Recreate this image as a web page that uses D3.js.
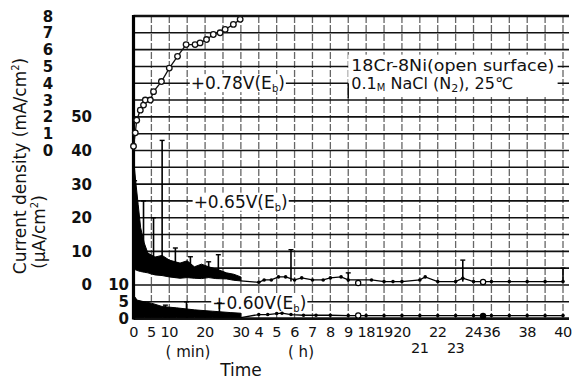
<!DOCTYPE html>
<html>
<head>
<meta charset="utf-8">
<script src="https://cdn.jsdelivr.net/npm/d3@7"></script>
<style>
  body { margin: 0; background: #fff; }
  svg text { font-family: "DejaVu Sans", sans-serif; fill: #111; }
</style>
</head>
<body>
<svg id="chart" width="578" height="382"></svg>
<script>
// ---- values ----
// time axis is broken: minutes up to 30, then hours
var minTicks = [0, 5, 10, 20, 30];
var hourTicks = [4, 5, 6, 7, 8, 9, 18, 19, 20, 21, 22, 23, 24, 36, 38, 40];
var secondRow = [21, 23];            // printed one row lower
var mATicks = [0, 1, 2, 3, 4, 5, 6, 7, 8];
var uATicks = [0, 10, 20, 30, 40, 50];
var lowTicks = [0, 5, 10];

// +0.78V(Eb) : minutes, mA/cm2
var t78 = [0, 0.5, 0.9, 1.9, 2.8, 3.3, 4.7, 5.6, 7.8, 10, 12.3, 14.7, 17.2, 18.6, 20.4, 22.3, 24.2, 25.6, 27.9, 29.8];
var i78 = [0.25, 1.05, 1.8, 2.4, 2.7, 3.0, 3.0, 3.5, 4.1, 4.9, 5.6, 6.3, 6.3, 6.4, 6.6, 6.9, 7.0, 7.2, 7.5, 7.8];

// +0.65V(Eb) : dense noisy trace, minutes, uA/cm2
var t65 = [0, 0.6, 1.3, 2, 3, 4, 6, 8, 10, 13, 15, 17, 19, 21, 23, 26, 28, 30];
var lo65 = [4.5, 4.5, 4.2, 4, 3.8, 3.6, 3, 2.8, 2.4, 2, 2.2, 2, 1.9, 2.2, 1.9, 1.8, 1.4, 1.2];
var hi65 = [38, 31, 24, 17, 12.5, 9.5, 8.3, 8.8, 7.4, 6.5, 7.2, 5.4, 6.2, 5.4, 4.8, 3.6, 3.2, 2.4];
var spikeT65 = [0.3, 2.8, 5.6, 8, 11.7, 15.9, 21, 23.7];
var spikeV65 = [31, 25, 20, 43, 11, 8.4, 6.9, 9];
// later part, hours
var spikeH65 = [5.8, 9, 23.4, 40];
var spikeHV65 = [10.5, 3.6, 7.4, 5];
var dotT65 = [4, 4.3, 4.7, 5.1, 5.5, 6, 6.4, 7, 7.6, 8, 8.6, 9, 18.3, 19, 19.5, 20, 21, 21.3, 22, 23, 23.4, 24, 36, 37, 38, 39, 40];
var dotV65 = [0.8, 1.5, 1.5, 2.4, 2.4, 1.5, 2.1, 1.5, 1.5, 2.1, 2.4, 1.5, 1.5, 1.0, 1.0, 1.0, 1.5, 2.4, 1.0, 1.0, 2.0, 1.0, 1.0, 1.0, 1.0, 1.0, 1.0];
var ringT65 = [14, 30.4];
var ringV65 = [0.6, 0.9];

// +0.60V(Eb) : lower panel, minutes, uA/cm2
var t60 = [0, 1, 3, 5, 8, 12, 17, 22, 27, 30];
var lo60 = [0.3, 0.3, 0.3, 0.3, 0.3, 0.3, 0.3, 0.3, 0.3, 0.3];
var hi60 = [7, 5.5, 5, 4.6, 3.6, 3.2, 2.6, 2.2, 1.8, 1.6];
var spikeT60 = [8.9, 14.8, 24];
var spikeV60 = [4, 5, 4.6];
var dotT60 = [4, 4.5, 5, 5.3, 5.8, 6.5, 7.2, 8, 9, 18, 19, 20, 21, 22, 23, 24, 36, 37, 38, 39, 40];
var dotV60 = [1.2, 1.2, 1.5, 1.6, 1.2, 1, 1, 1, 0.9, 0.9, 0.9, 0.9, 0.9, 0.9, 0.9, 0.9, 0.9, 0.9, 0.9, 0.9, 0.9];
var ringT60 = [14];
var ringV60 = [0.9];
var bigT60 = [30.4];
var bigV60 = [0.8];

// ---- layout ----
var pLeft = 133.5, pRight = 563, pTop = 16, pBottom = 318.6;
var nCols = 24, nRows = 18;

var svg = d3.select('#chart');

// grid cells -> pixels
var gx = d3.scaleLinear().domain([0, nCols]).range([pLeft, pRight]);
var gy = d3.scaleLinear().domain([0, nRows]).range([pTop, pBottom]);

// broken time axis (hours), each break sits on a grid line
var x = d3.scaleLinear()
  .domain([0, 0.5, 4, 9, 18, 24, 36, 40])
  .range([0, 6, 7, 12, 13, 19, 20, 24].map(gx));
var xm = function(m) { return x(m / 60); };

var yMA = d3.scaleLinear().domain([0, 8]).range([gy(8), gy(0)]);
var yUA = d3.scaleLinear().domain([0, 50]).range([gy(16), gy(6)]);
var yLo = d3.scaleLinear().domain([0, 10]).range([gy(18), gy(16)]);

// ---- grid ----
var grid = svg.append('g');
grid.selectAll('line.v')
  .data(d3.range(1, nCols + 1))
  .enter().append('line')
  .attr('x1', gx).attr('x2', gx)
  .attr('y1', pTop).attr('y2', pBottom)
  .attr('stroke', '#666').attr('stroke-width', 1.3)
  .attr('stroke-dasharray', '7,2');
grid.selectAll('line.h')
  .data(d3.range(0, nRows + 1))
  .enter().append('line')
  .attr('x1', pLeft).attr('x2', pRight + 6)
  .attr('y1', gy).attr('y2', gy)
  .attr('stroke', '#111')
  .attr('stroke-width', function(d) { return (d == 0 || d == nRows) ? 2.6 : 1.6; });
grid.append('line')
  .attr('x1', pLeft).attr('x2', pLeft)
  .attr('y1', pTop - 1).attr('y2', pBottom + 1)
  .attr('stroke', '#000').attr('stroke-width', 3.2);

// white patch for the specimen note
var note = svg.append('g');
note.append('rect')
  .attr('x', gx(12)).attr('y', gy(2.3))
  .attr('width', gx(23.7) - gx(12)).attr('height', gy(4.7) - gy(2.3))
  .attr('fill', '#fff');
note.append('line')
  .attr('x1', gx(12)).attr('x2', gx(12))
  .attr('y1', gy(4)).attr('y2', gy(4.9))
  .attr('stroke', '#111').attr('stroke-width', 1.5);
var n1 = note.append('text').attr('x', gx(12) + 3).attr('y', gy(3.25)).attr('font-size', 15.5)
  .attr('textLength', 203).attr('lengthAdjust', 'spacingAndGlyphs');
n1.text('18Cr-8Ni(open surface)');
var n2 = note.append('text').attr('x', gx(12) + 3).attr('y', gy(4.35)).attr('font-size', 16);
n2.append('tspan').text('0.1');
n2.append('tspan').attr('font-size', 10).attr('dy', 2).text('M');
n2.append('tspan').attr('dy', -2).text(' NaCl (N');
n2.append('tspan').attr('font-size', 11).attr('dy', 3).text('2');
n2.append('tspan').attr('dy', -3).text('), 25\u2103');

// ---- series labels ----
function seriesLabel(txt, xp, yp) {
  var g = svg.append('g');
  var bg = g.append('rect').attr('fill', '#fff');
  var t = g.append('text').attr('x', xp).attr('y', yp).attr('font-size', 17);
  t.append('tspan').text(txt + '(E');
  t.append('tspan').attr('font-size', 10).attr('dy', 3).text('b');
  t.append('tspan').attr('dy', -3).text(')');
  var b = t.node().getBBox();
  bg.attr('x', b.x - 1).attr('y', b.y + 1).attr('width', b.width + 2).attr('height', b.height - 3);
}
seriesLabel('+0.78V', xm(16), gy(4.35));
seriesLabel('+0.65V', xm(16.8), gy(11.4));
seriesLabel('+0.60V', xm(22), gy(17.45));

// ---- +0.78V ----
var d78 = d3.zip(t78, i78);
svg.append('path')
  .datum(d78)
  .attr('fill', 'none').attr('stroke', '#111').attr('stroke-width', 1.3)
  .attr('d', d3.line().x(function(d) { return xm(d[0]); }).y(function(d) { return yMA(d[1]); }));
svg.selectAll('circle.c78')
  .data(d78)
  .enter().append('circle')
  .attr('cx', function(d) { return xm(d[0]); })
  .attr('cy', function(d) { return yMA(d[1]); })
  .attr('r', 2.8)
  .attr('fill', '#fff').attr('stroke', '#111').attr('stroke-width', 1.3);

// ---- noisy traces: band + spikes + dots ----
function trace(y, tt, lo, hi, sT, sV, sH, sHV, dT, dV, rT, rV) {
  var g = svg.append('g');
  var rows = tt.map(function(t, i) { return { t: t, lo: lo[i], hi: hi[i] }; });
  g.append('path')
    .datum(rows)
    .attr('fill', '#000').attr('stroke', '#000').attr('stroke-width', 1)
    .attr('d', d3.area()
      .x(function(d) { return xm(d.t); })
      .y0(function(d) { return y(d.lo); })
      .y1(function(d) { return y(d.hi); }));
  var base = d3.scaleLinear().domain(tt).range(lo).clamp(true);
  var sp = d3.zip(sT, sV).map(function(d) { return { px: xm(d[0]), b: base(d[0]), v: d[1] }; })
    .concat(d3.zip(sH, sHV).map(function(d) { return { px: x(d[0]), b: 1, v: d[1] }; }));
  g.selectAll('line.sp').data(sp).enter().append('line')
    .attr('x1', function(d) { return d.px; }).attr('x2', function(d) { return d.px; })
    .attr('y1', function(d) { return y(d.b); }).attr('y2', function(d) { return y(d.v); })
    .attr('stroke', '#000').attr('stroke-width', 1.6);
  g.selectAll('line.cap').data(sp).enter().append('line')
    .attr('x1', function(d) { return d.px - 2.5; }).attr('x2', function(d) { return d.px + 2.5; })
    .attr('y1', function(d) { return y(d.v); }).attr('y2', function(d) { return y(d.v); })
    .attr('stroke', '#000').attr('stroke-width', 1.4);
  // tail after 30 min
  var tail = [[0.5, lo[lo.length - 1]]].concat(d3.zip(dT, dV));
  g.append('path').datum(tail)
    .attr('fill', 'none').attr('stroke', '#000').attr('stroke-width', 1.3)
    .attr('d', d3.line().x(function(d) { return x(d[0]); }).y(function(d) { return y(d[1]); }));
  g.selectAll('circle.dot').data(d3.zip(dT, dV)).enter().append('circle')
    .attr('cx', function(d) { return x(d[0]); }).attr('cy', function(d) { return y(d[1]); })
    .attr('r', 1.8).attr('fill', '#000');
  g.selectAll('circle.ring').data(d3.zip(rT, rV)).enter().append('circle')
    .attr('cx', function(d) { return x(d[0]); }).attr('cy', function(d) { return y(d[1]); })
    .attr('r', 2.6).attr('fill', '#fff').attr('stroke', '#000').attr('stroke-width', 1.2);
  return g;
}
trace(yUA, t65, lo65, hi65, spikeT65, spikeV65, spikeH65, spikeHV65, dotT65, dotV65, ringT65, ringV65);
var g60 = trace(yLo, t60, lo60, hi60, spikeT60, spikeV60, [], [], dotT60, dotV60, ringT60, ringV60);
g60.selectAll('circle.big').data(d3.zip(bigT60, bigV60)).enter().append('circle')
  .attr('cx', function(d) { return x(d[0]); }).attr('cy', function(d) { return yLo(d[1]); })
  .attr('r', 3.2).attr('fill', '#000');

// ---- axis labels ----
var ax = svg.append('g');
ax.selectAll('text.ma').data(mATicks).enter().append('text')
  .attr('x', 48).attr('y', function(d) { return yMA(d) + 5.5; })
  .attr('text-anchor', 'middle').attr('font-size', 15).attr('font-weight', 'bold')
  .text(function(d) { return d; });
ax.selectAll('text.ua').data(uATicks).enter().append('text')
  .attr('x', 92).attr('y', function(d) { return yUA(d) + 5.5; })
  .attr('text-anchor', 'end').attr('font-size', 15).attr('font-weight', 'bold')
  .text(function(d) { return d; });
ax.selectAll('text.lo').data(lowTicks).enter().append('text')
  .attr('x', 129).attr('y', function(d) { return yLo(d) + 5.5; })
  .attr('text-anchor', 'end').attr('font-size', 15).attr('font-weight', 'bold')
  .text(function(d) { return d; });

ax.selectAll('text.xm').data(minTicks).enter().append('text')
  .attr('x', xm).attr('y', 337)
  .attr('text-anchor', 'middle').attr('font-size', 14.5).attr('letter-spacing', -0.5)
  .text(function(d) { return d; });
ax.selectAll('text.xh').data(hourTicks).enter().append('text')
  .attr('x', x).attr('y', function(d) { return secondRow.indexOf(d) >= 0 ? 353 : 337; })
  .attr('text-anchor', 'middle').attr('font-size', 14.5).attr('letter-spacing', -0.5)
  .text(function(d) { return d; });

ax.append('text').attr('x', 188).attr('y', 357).attr('text-anchor', 'middle').attr('font-size', 15).text('( min)');
ax.append('text').attr('x', 301).attr('y', 357).attr('text-anchor', 'middle').attr('font-size', 15).text('( h)');
ax.append('text').attr('x', 241).attr('y', 376).attr('text-anchor', 'middle').attr('font-size', 17).text('Time');

var yt1 = ax.append('text').attr('transform', 'translate(26,166) rotate(-90)')
  .attr('text-anchor', 'middle').attr('font-size', 17);
yt1.append('tspan').text('Current density  (mA/cm');
yt1.append('tspan').attr('font-size', 10).attr('dy', -7).text('2');
yt1.append('tspan').attr('dy', 7).text(')');
var yt2 = ax.append('text').attr('transform', 'translate(45,232) rotate(-90)')
  .attr('text-anchor', 'middle').attr('font-size', 17);
yt2.append('tspan').text('(\u03bcA/cm');
yt2.append('tspan').attr('font-size', 10).attr('dy', -7).text('2');
yt2.append('tspan').attr('dy', 7).text(')');
</script>
</body>
</html>
